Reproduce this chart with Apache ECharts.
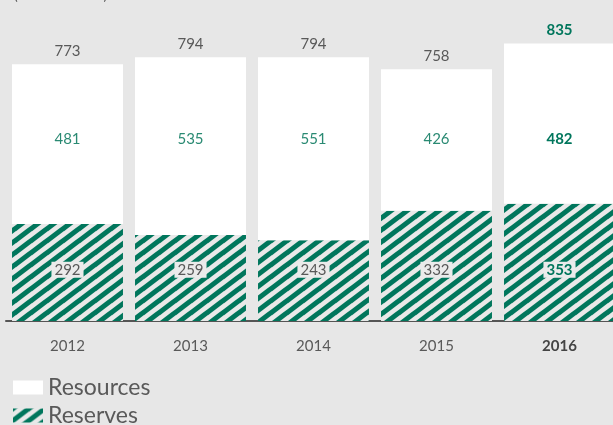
<!DOCTYPE html>
<html>
<head>
<meta charset="utf-8">
<script src="https://cdn.jsdelivr.net/npm/echarts@6/dist/echarts.min.js"></script>
<style>
  html, body { margin: 0; padding: 0; background: #e7e7e7; }
  #chart { width: 613px; height: 425px; }
</style>
</head>
<body>
<div id="chart"></div>
<script>
// Years and volumes (million tonnes)
const years = ['2012', '2013', '2014', '2015', '2016'];
const reserves = [292, 259, 243, 332, 353];
const resources = [481, 535, 551, 426, 482];
const totals = [773, 794, 794, 758, 835];

const GREEN = '#00765c';
const GREY_TEXT = '#595959';
const FONT = 'Lato, "Open Sans", sans-serif';

// Value-axis heights at which the in-bar labels sit on one common line
const RESOURCE_LABEL_LEVEL = 548;
const RESERVE_LABEL_LEVEL = 154;

// Diagonal hatch tile used for the reserves bars
function stripeTile() {
  const w = 16, h = 12;
  const c = document.createElement('canvas');
  c.width = w; c.height = h;
  const ctx = c.getContext('2d');
  ctx.fillStyle = '#e9e9e9';
  ctx.fillRect(0, 0, w, h);
  ctx.strokeStyle = GREEN;
  ctx.lineWidth = 5;
  for (let k = -1; k <= 1; k++) {
    ctx.beginPath();
    ctx.moveTo(-w + k * w, 2 * h);
    ctx.lineTo(2 * w + k * w, -h);
    ctx.stroke();
  }
  return c;
}
const hatch = { image: stripeTile(), repeat: 'repeat' };

const last = years.length - 1;
const boldGreen = { fontWeight: 'bold', color: GREEN };

// Invisible carrier series placing value labels at a fixed height
function labelRow(name, level, values, baseLabel) {
  return {
    name, type: 'scatter', symbolSize: 1, silent: true, z: 5,
    itemStyle: { color: 'transparent' },
    label: Object.assign({
      show: true, position: 'inside', fontSize: 15, fontFamily: FONT, opacity: 1,
      formatter: p => values[p.dataIndex]
    }, baseLabel),
    data: values.map((v, i) => i === last
      ? { value: level, label: boldGreen }
      : level)
  };
}

const chart = echarts.init(document.getElementById('chart'));
chart.setOption({
  backgroundColor: '#e7e7e7',
  animation: false,
  textStyle: { fontFamily: FONT },
  graphic: [{
    type: 'text', left: 14, top: -12,
    style: { text: '(million tonnes)', fontSize: 14, fill: GREY_TEXT, fontFamily: FONT }
  }],
  legend: {
    orient: 'vertical',
    left: 13, top: 376, height: 90, padding: 0,
    itemWidth: 30, itemHeight: 14, itemGap: 5, icon: 'rect',
    data: ['Resources', 'Reserves'],
    textStyle: { fontSize: 23, color: GREY_TEXT, fontFamily: FONT },
    selectedMode: false
  },
  grid: { left: 6, width: 615, top: 22, bottom: 104, outerBoundsMode: 'none', containLabel: false },
  xAxis: {
    type: 'category',
    data: years.map((y, i) => i === last
      ? { value: y, textStyle: { fontWeight: 'bold', color: '#444' } }
      : y),
    axisTick: { show: false },
    axisLine: { lineStyle: { color: '#555', width: 2 } },
    axisLabel: { color: GREY_TEXT, fontSize: 15, margin: 18, fontFamily: FONT }
  },
  yAxis: { type: 'value', min: 0, max: 900, show: false, splitLine: { show: false } },
  series: [
    {
      name: 'Reserves', type: 'bar', stack: 'v', barCategoryGap: '9.8%',
      itemStyle: { color: hatch },
      data: reserves
    },
    {
      name: 'Resources', type: 'bar', stack: 'v',
      itemStyle: { color: '#ffffff' },
      data: resources
    },
    {
      name: 'Total', type: 'bar', stack: 'v',
      itemStyle: { color: 'transparent' },
      label: {
        show: true, position: 'top', distance: 6, fontSize: 15, color: GREY_TEXT, fontFamily: FONT,
        formatter: p => totals[p.dataIndex]
      },
      data: totals.map((v, i) => i === last ? { value: 0, label: boldGreen } : 0)
    },
    labelRow('ResourceLabels', RESOURCE_LABEL_LEVEL, resources, { color: '#2a8a73' }),
    labelRow('ReserveLabels', RESERVE_LABEL_LEVEL, reserves, {
      color: GREY_TEXT, backgroundColor: '#ebebeb', padding: [1, 3, 0, 3]
    })
  ]
});
</script>
</body>
</html>
